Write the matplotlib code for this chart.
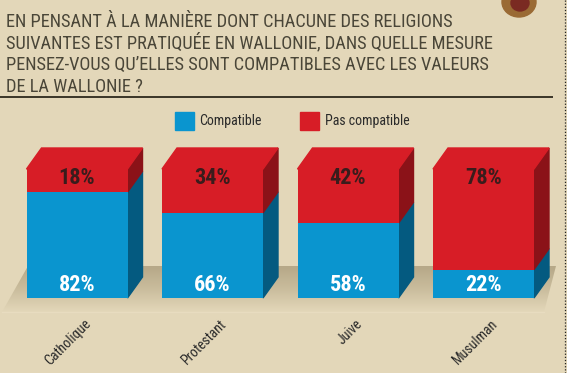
import matplotlib
matplotlib.use("Agg")
import matplotlib.pyplot as plt
import numpy as np
from matplotlib.patches import Polygon, Rectangle, Ellipse
from matplotlib.colors import LinearSegmentedColormap
from matplotlib import font_manager

categories = ["Catholique", "Protestant", "Juive", "Musulman"]
compatible = [82, 66, 58, 22]
pas_compatible = [18, 34, 42, 78]
legend_labels = ["Compatible", "Pas compatible"]
title_lines = [
    "EN PENSANT À LA MANIÈRE DONT CHACUNE DES RELIGIONS",
    "SUIVANTES EST PRATIQUÉE EN WALLONIE, DANS QUELLE MESURE",
    "PENSEZ-VOUS QU’ELLES SONT COMPATIBLES AVEC LES VALEURS",
    "DE LA WALLONIE ?",
]

names = {f.name for f in font_manager.fontManager.ttflist}
FONT = [f for f in ["Liberation Sans Narrow", "Roboto Condensed", "Open Sans Condensed"] if f in names]
FONT = FONT + ["DejaVu Sans"]

BG = "#e3d7b9"
BLUE = "#0a95cf"
BLUE_SIDE = "#045a80"
RED = "#d71d26"
RED_SIDE = "#8b1218"
TITLE_C = "#4a4638"

W, H = 567, 373
fig = plt.figure(figsize=(W / 100, H / 100), dpi=100, facecolor=BG)

# background axes in pixel coordinates
bg = fig.add_axes([0, 0, 1, 1])
bg.axis("off")
bg.set_facecolor(BG)

# title
for k, line in enumerate(title_lines):
    bg.text(6, 27 + k * 21.7, line, fontsize=13.2, color=TITLE_C,
            family=FONT, ha="left", va="baseline")
bg.plot([0, 553], [97, 97], color="#3a3528", lw=1.4, solid_capstyle="butt")

# decorative emblem top-right
bg.add_patch(Ellipse((519, 2), 34, 30, color="#9a6a34", zorder=2))
bg.add_patch(Ellipse((520, 3), 18, 16, color="#7a2a22", zorder=3))
# dotted right border
bg.plot([565, 565], [0, H], color="#222222", lw=0.9, ls=(0, (1, 1.5)))

# legend
bg.add_patch(Rectangle((175, 112), 19, 18, color=BLUE))
bg.text(199, 121.5, legend_labels[0], fontsize=10, color="#2a2a2a",
        family=FONT, ha="left", va="center")
bg.add_patch(Rectangle((300, 112), 19, 18, color=RED))
bg.text(325, 121.5, legend_labels[1], fontsize=10, color="#2a2a2a",
        family=FONT, ha="left", va="center")

# floor (plank) with gradient
floor = Polygon([(2, 312), (544, 312), (556, 266), (28, 266)], closed=True,
                facecolor="none", edgecolor="none")
bg.add_patch(floor)
grad = np.linspace(0, 1, 100).reshape(-1, 1)
cmap = LinearSegmentedColormap.from_list("fl", [BG, "#cabd9d", "#b6a888"])
im = bg.imshow(grad, extent=[0, W, 266, 312], cmap=cmap, aspect="auto",
               origin="upper", zorder=1)
im.set_clip_path(floor)
bg.plot([2, 544], [311.5, 311.5], color="#e8dcc0", lw=1, zorder=1.5)
bg.set_xlim(0, W)
bg.set_ylim(H, 0)

# bar axes
x0_px, step_px, bar_px = 77, 135.5, 101
y_bot, y_top = 298, 169
ax = fig.add_axes([0, (H - y_bot) / H, 1, (y_bot - y_top) / H])
ax.set_xlim(-x0_px / step_px, (W - x0_px) / step_px)
ax.set_ylim(0, 100)
ax.axis("off")
ax.patch.set_alpha(0)

x = np.arange(len(categories))
w = bar_px / step_px
dx = 15 / step_px
dy = 21 * 100 / (y_bot - y_top)

comp = np.array(compatible)
pas = np.array(pas_compatible)
total = comp + pas

ax.bar(x, comp, width=w, color=BLUE, zorder=3)
ax.bar(x, pas, width=w, bottom=comp, color=RED, zorder=3)

for i in range(len(x)):
    r = x[i] + w / 2
    l = x[i] - w / 2
    ax.add_patch(Polygon([(r, 0), (r + dx, dy), (r + dx, comp[i] + dy), (r, comp[i])],
                         closed=True, color=BLUE_SIDE, zorder=2, clip_on=False))
    ax.add_patch(Polygon([(r, comp[i]), (r + dx, comp[i] + dy), (r + dx, total[i] + dy), (r, total[i])],
                         closed=True, color=RED_SIDE, zorder=2, clip_on=False))
    ax.add_patch(Polygon([(l, total[i]), (r, total[i]), (r + dx, total[i] + dy), (l + dx, total[i] + dy)],
                         closed=True, color=RED, zorder=2, clip_on=False))
    ax.annotate(f"{comp[i]}%", xy=(x[i], 0), xytext=(0, 13 * 0.72),
                textcoords="offset points", ha="center", va="center",
                fontsize=16, fontweight="bold", color="white", family=FONT,
                zorder=5)
    ax.annotate(f"{pas[i]}%", xy=(x[i], 100), xytext=(0, -9 * 0.72),
                textcoords="offset points", ha="center", va="center",
                fontsize=16, fontweight="bold", color="#3a1c1c", family=FONT,
                zorder=5)
    ax.annotate(categories[i], xy=(x[i], 0), xytext=(7 * 0.72, -19 * 0.72),
                textcoords="offset points", ha="right", va="top",
                rotation=45, rotation_mode="anchor", fontsize=10,
                color="#2a2a2a", family=FONT, annotation_clip=False)

fig.savefig("out.png", dpi=100, facecolor=BG)
